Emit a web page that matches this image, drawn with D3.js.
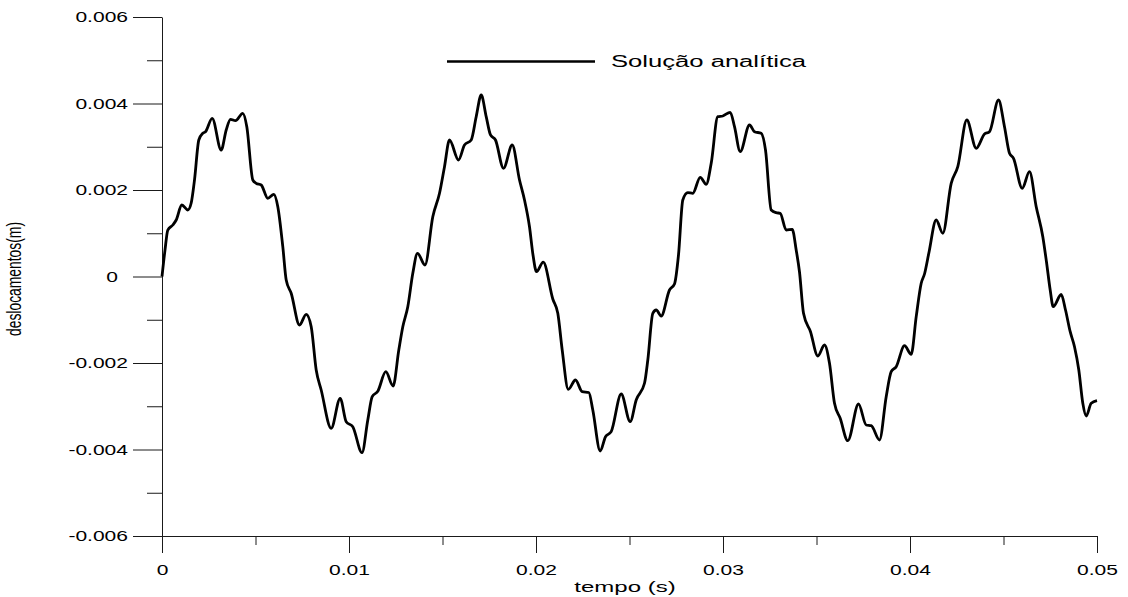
<!DOCTYPE html>
<html>
<head>
<meta charset="utf-8">
<script src="https://cdn.jsdelivr.net/npm/d3@7"></script>
<style>
  html, body { margin: 0; padding: 0; background: #fff; }
  svg { display: block; font-family: "Liberation Sans", Arial, sans-serif; }
</style>
</head>
<body>
<svg id="chart" width="1128" height="597"></svg>
<script>
// Displacement response u(t), analytical solution
const timeS = [
  0, 0.00016, 0.00031, 0.000578, 0.000759, 0.001059, 0.00138, 0.001561, 0.001738, 0.001968,
  0.002182, 0.002326, 0.002684, 0.003166, 0.003433, 0.003663, 0.00393, 0.004321, 0.004535, 0.004856,
  0.005037, 0.005305, 0.005658, 0.005979, 0.006193, 0.00646, 0.006642, 0.006909, 0.007353, 0.007711,
  0.007979, 0.008246, 0.008513, 0.009048, 0.009529, 0.00985, 0.010203, 0.010695, 0.011005, 0.011241,
  0.01154, 0.011968, 0.012358, 0.012663, 0.012877, 0.013144, 0.013412, 0.013663, 0.014064, 0.014481,
  0.01484, 0.015107, 0.015374, 0.015856, 0.016176, 0.016535, 0.016802, 0.01707, 0.017337, 0.017567,
  0.017834, 0.018262, 0.018727, 0.019118, 0.019385, 0.019652, 0.01984, 0.020027, 0.020385, 0.020898,
  0.021166, 0.021401, 0.021727, 0.022112, 0.022471, 0.022824, 0.023037, 0.023433, 0.023717, 0.024021,
  0.024556, 0.025037, 0.025358, 0.025802, 0.025979, 0.026246, 0.026428, 0.026695, 0.027139, 0.027406,
  0.02762, 0.02785, 0.028118, 0.028385, 0.028781, 0.029102, 0.029369, 0.029722, 0.029989, 0.030385,
  0.030615, 0.03092, 0.031417, 0.031684, 0.032043, 0.032273, 0.032578, 0.032845, 0.033059, 0.03338,
  0.033701, 0.033914, 0.034091, 0.034305, 0.034679, 0.03507, 0.035428, 0.035695, 0.035963, 0.036267,
  0.036674, 0.037246, 0.037658, 0.037925, 0.038369, 0.038727, 0.038995, 0.039262, 0.039706, 0.040064,
  0.040332, 0.040599, 0.040775, 0.041005, 0.041401, 0.041754, 0.042203, 0.042556, 0.043037, 0.04354,
  0.043984, 0.044251, 0.044733, 0.045053, 0.045321, 0.045535, 0.046, 0.04639, 0.046749, 0.047102,
  0.047299, 0.047497, 0.047658, 0.048086, 0.048316, 0.048567, 0.048797, 0.049027, 0.049241, 0.049422,
  0.04969, 0.05
];
const displacementM = [
  0, 0.00061, 0.001075, 0.001191, 0.001306, 0.001653, 0.001538, 0.001699, 0.002231, 0.003156,
  0.003311, 0.003348, 0.003658, 0.002925, 0.003387, 0.003635, 0.003602, 0.003773, 0.003464, 0.002231,
  0.002155, 0.002116, 0.001808, 0.001901, 0.001614, 0.000689, -0.000081, -0.000388, -0.001121, -0.000874,
  -0.001161, -0.002162, -0.002624, -0.00351, -0.002816, -0.003357, -0.003473, -0.004074, -0.003318, -0.002779,
  -0.002654, -0.002201, -0.002532, -0.001699, -0.001161, -0.000698, 0.000074, 0.000536, 0.000266, 0.001383,
  0.001924, 0.002539, 0.003156, 0.002694, 0.00304, 0.003156, 0.003695, 0.004197, 0.003695, 0.003272,
  0.003156, 0.002502, 0.00304, 0.002231, 0.001769, 0.001151, 0.000497, 0.000111, 0.000331, -0.00052,
  -0.000851, -0.001699, -0.002608, -0.002393, -0.002664, -0.002682, -0.003087, -0.004035, -0.003704, -0.003588,
  -0.002717, -0.003357, -0.002855, -0.002469, -0.001931, -0.000851, -0.000775, -0.000913, -0.000312, -0.000173,
  0.000497, 0.001769, 0.001938, 0.001924, 0.002294, 0.002132, 0.002617, 0.003695, 0.003711, 0.003797,
  0.003464, 0.002886, 0.003503, 0.003348, 0.003311, 0.002925, 0.001538, 0.001475, 0.001461, 0.001075,
  0.001091, 0.000613, 0.000104, -0.000851, -0.001276, -0.001838, -0.001584, -0.002007, -0.002932, -0.003279,
  -0.003797, -0.002948, -0.003434, -0.00345, -0.00378, -0.002779, -0.002201, -0.002086, -0.0016, -0.001799,
  -0.000929, -0.000157, 0.000058, 0.000536, 0.001306, 0.000999, 0.002155, 0.002539, 0.003618, 0.002964,
  0.003295, 0.003348, 0.004081, 0.003464, 0.002849, 0.002733, 0.002039, 0.002423, 0.001614, 0.00092,
  0.000335, -0.000312, -0.000698, -0.000416, -0.000775, -0.001276, -0.001623, -0.002162, -0.002932, -0.003225,
  -0.002932, -0.00287
];

const xMajorTicks = [0, 0.01, 0.02, 0.03, 0.04, 0.05];
const xMinorTicks = [0.005, 0.015, 0.025, 0.035, 0.045];
const yMajorTicks = [-0.006, -0.004, -0.002, 0, 0.002, 0.004, 0.006];
const yMinorTicks = [-0.005, -0.003, -0.001, 0.001, 0.003, 0.005];
const xTickLabels = ["0", "0.01", "0.02", "0.03", "0.04", "0.05"];
const yTickLabels = ["-0.006", "-0.004", "-0.002", "0", "0.002", "0.004", "0.006"];

const seriesName = "Solução analítica";
const xTitle = "tempo (s)";
const yTitle = "deslocamentos(m)";

const svg = d3.select("#chart");

const x = d3.scaleLinear().domain([0, 0.05]).range([162, 1097]);
const y = d3.scaleLinear().domain([-0.006, 0.006]).range([536, 17]);

const axisColor = "#1a1a1a";
const wide = 1.4; // horizontal stretch of the lettering

// Stretch each text node horizontally by a factor, keeping its anchor
function stretch(sel, factor) {
  sel.each(function () {
    const w = this.getComputedTextLength();
    if (w > 0) {
      d3.select(this)
        .attr("textLength", w * factor)
        .attr("lengthAdjust", "spacingAndGlyphs");
    }
  });
}

// Y axis: long major ticks with labels, short minor ticks
const yAxisG = svg.append("g")
  .attr("transform", `translate(${x(0)},0)`)
  .call(d3.axisLeft(y)
    .tickValues(yMajorTicks)
    .tickSizeInner(29).tickSizeOuter(0)
    .tickPadding(5)
    .tickFormat((d, i) => yTickLabels[i]));
// the lone zero sits a little further out than the decimal labels
yAxisG.selectAll(".tick text").filter(d => d === 0).attr("dx", -10);

svg.append("g")
  .attr("transform", `translate(${x(0)},0)`)
  .call(d3.axisLeft(y).tickValues(yMinorTicks).tickSize(15).tickFormat(""))
  .select(".domain").remove();

// X axis along the bottom of the value range
svg.append("g")
  .attr("transform", `translate(0,${y(-0.006)})`)
  .call(d3.axisBottom(x)
    .tickValues(xMajorTicks)
    .tickSizeInner(17).tickSizeOuter(0)
    .tickPadding(11)
    .tickFormat((d, i) => xTickLabels[i]));
svg.append("g")
  .attr("transform", `translate(0,${y(-0.006)})`)
  .call(d3.axisBottom(x).tickValues(xMinorTicks).tickSize(9).tickFormat(""))
  .select(".domain").remove();

svg.selectAll(".domain, .tick line").attr("stroke", axisColor).attr("stroke-width", 1);
svg.selectAll(".tick text")
  .attr("fill", "#000")
  .style("font-family", "'Liberation Sans', Arial, sans-serif")
  .style("font-size", "15px")
  .call(stretch, wide);

// Axis titles
svg.append("text")
  .attr("x", 625).attr("y", 592)
  .attr("text-anchor", "middle")
  .style("font-size", "15px")
  .text(xTitle)
  .call(stretch, 1.6);

svg.append("text")
  .attr("transform", "translate(21,279) rotate(-90)")
  .attr("text-anchor", "middle")
  .attr("textLength", 114)
  .attr("lengthAdjust", "spacingAndGlyphs")
  .style("font-size", "20px")
  .text(yTitle);

// Response curve
const line = d3.line()
  .x((d, i) => x(timeS[i]))
  .y(d => y(d))
  .curve(d3.curveMonotoneX);

svg.append("path")
  .datum(displacementM)
  .attr("fill", "none")
  .attr("stroke", "#000")
  .attr("stroke-width", 2.8)
  .attr("stroke-linejoin", "round")
  .attr("d", line);

// Legend
svg.append("line")
  .attr("x1", 447).attr("x2", 595)
  .attr("y1", 61.5).attr("y2", 61.5)
  .attr("stroke", "#000").attr("stroke-width", 2.5);
svg.append("text")
  .attr("x", 611).attr("y", 67)
  .attr("textLength", 195)
  .attr("lengthAdjust", "spacingAndGlyphs")
  .style("font-size", "16px")
  .text(seriesName);
</script>
</body>
</html>
